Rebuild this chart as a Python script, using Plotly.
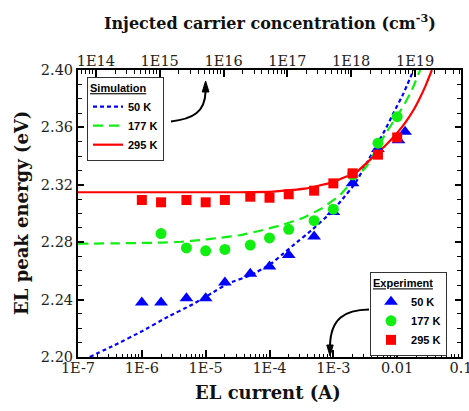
import plotly.graph_objects as go

# ---------------- data ----------------
# Experiment
exp_x_50 = [1e-6, 2e-6, 5e-6, 1e-5, 2e-5, 5e-5, 1e-4, 2e-4, 5e-4, 1e-3, 2e-3, 5e-3, 1.05e-2, 1.33e-2]
exp_y_50 = [2.238, 2.238, 2.241, 2.241, 2.252, 2.258, 2.263, 2.271, 2.284, 2.301, 2.321, 2.345, 2.351, 2.357]

exp_x_177 = [2e-6, 5e-6, 1e-5, 2e-5, 5e-5, 1e-4, 2e-4, 5e-4, 1e-3, 2e-3, 5e-3, 1e-2]
exp_y_177 = [2.286, 2.276, 2.274, 2.275, 2.278, 2.283, 2.289, 2.295, 2.303, 2.327, 2.349, 2.3675]

exp_x_295 = [1e-6, 2e-6, 5e-6, 1e-5, 2e-5, 5e-5, 1e-4, 2e-4, 5e-4, 1e-3, 2e-3, 5e-3, 1e-2]
exp_y_295 = [2.3094, 2.3078, 2.3094, 2.3078, 2.3094, 2.3117, 2.311, 2.3134, 2.3159, 2.321, 2.328, 2.341, 2.353]

# Simulation (log10 of current, energy)
sim_logx_50 = [-6.817, -6.425, -6.008, -5.589, -5.224, -4.911, -4.649, -4.284, -3.970, -3.813,
               -3.625, -3.337, -3.077, -2.867, -2.658, -2.490, -2.318, -2.180, -2.058, -1.901, -1.744]
sim_y_50 = [2.200, 2.2083, 2.2177, 2.2281, 2.2362, 2.2443, 2.2513, 2.2571, 2.2652, 2.271,
            2.278, 2.2885, 2.299, 2.3094, 2.321, 2.334, 2.348, 2.359, 2.370, 2.3837, 2.400]

sim_logx_177 = [-7.0, -6.4, -5.699, -5.386, -5.072, -4.759, -4.445, -4.147, -3.807, -3.494,
                -3.180, -2.893, -2.658, -2.475, -2.318, -2.161, -2.030, -1.901, -1.770, -1.640]
sim_y_177 = [2.2790, 2.2792, 2.2797, 2.2803, 2.2815, 2.2832, 2.2850, 2.2880, 2.2920, 2.2966,
             2.3036, 2.3129, 2.3245, 2.3330, 2.3455, 2.3570, 2.3660, 2.3750, 2.3860, 2.4000]

sim_logx_295 = [-7.0, -6.0, -5.0, -4.461, -3.939, -3.415, -2.998, -2.632, -2.372, -2.180,
                -2.005, -1.870, -1.744, -1.650, -1.561, -1.456]
sim_y_295 = [2.3148, 2.3148, 2.3148, 2.3148, 2.3152, 2.3175, 2.322, 2.329, 2.3396, 2.3475,
             2.3559, 2.3635, 2.3721, 2.3800, 2.3884, 2.400]

# axes
bottom_tickvals = [1e-7, 1e-6, 1e-5, 1e-4, 1e-3, 1e-2, 1e-1]
bottom_ticktext = ["1E-7", "1E-6", "1E-5", "1E-4", "1E-3", "0.01", "0.1"]
top_tickvals = [1e14, 1e15, 1e16, 1e17, 1e18, 1e19]
top_ticktext = ["1E14", "1E15", "1E16", "1E17", "1E18", "1E19"]
conc_offset = 20.72  # log10(concentration) - log10(current)

# ---------------- figure ----------------
BLUE = "#0000ff"
GREEN = "#11ee11"
RED = "#ff0000"
SERIF = "DejaVu Serif"
SANS = "Liberation Sans"
TICKFONT = dict(family=SERIF, size=14.5, color="#222")

fig = go.Figure()

fig.add_trace(go.Scatter(x=[10 ** v for v in sim_logx_50], y=sim_y_50, mode="lines",
                         line=dict(color=BLUE, width=2.2, dash="4px,3px", shape="spline", smoothing=0.3),
                         name="<b>50 K</b>", legend="legend"))
fig.add_trace(go.Scatter(x=[10 ** v for v in sim_logx_177], y=sim_y_177, mode="lines",
                         line=dict(color=GREEN, width=2.2, dash="10px,6px", shape="spline", smoothing=0.3),
                         name="<b>177 K</b>", legend="legend"))
fig.add_trace(go.Scatter(x=[10 ** v for v in sim_logx_295], y=sim_y_295, mode="lines",
                         line=dict(color=RED, width=2.2, shape="spline", smoothing=0.3),
                         name="<b>295 K</b>", legend="legend"))

fig.add_trace(go.Scatter(x=exp_x_50, y=exp_y_50, mode="markers",
                         marker=dict(symbol="triangle-up", size=12, color=BLUE),
                         name="<b>50 K</b>", legend="legend2"))
fig.add_trace(go.Scatter(x=exp_x_177, y=exp_y_177, mode="markers",
                         marker=dict(symbol="circle", size=11, color=GREEN),
                         name="<b>177 K</b>", legend="legend2"))
fig.add_trace(go.Scatter(x=exp_x_295, y=exp_y_295, mode="markers",
                         marker=dict(symbol="square", size=10, color=RED),
                         name="<b>295 K</b>", legend="legend2"))

# invisible trace to activate top axis
fig.add_trace(go.Scatter(x=[1e15], y=[2.3], xaxis="x2", mode="markers",
                         marker=dict(opacity=0), showlegend=False, hoverinfo="skip"))

def minor_vals(lo, hi):
    vals = []
    for e in range(lo, hi + 1):
        for m in range(2, 10):
            vals.append(float(m) * 10.0 ** e)
    return vals

fig.update_layout(
    width=469, height=411,
    margin=dict(l=78, r=8, t=70, b=54, autoexpand=False),
    paper_bgcolor="white", plot_bgcolor="white",
    showlegend=True,
    xaxis=dict(type="log", range=[-7, -1], tickmode="array", tickvals=bottom_tickvals,
               ticktext=bottom_ticktext, ticks="inside", ticklen=7, tickwidth=1.5,
               tickcolor="black", showline=True, linewidth=2, linecolor="black", mirror=True,
               showgrid=False, zeroline=False, ticklabelstandoff=-3,
               automargin=False, ticklabeloverflow="allow",
               tickfont=TICKFONT,
               minor=dict(tickvals=minor_vals(-7, -2), ticks="inside", ticklen=3.5,
                          tickwidth=1.2, tickcolor="black", showgrid=False)),
    xaxis2=dict(type="log", overlaying="x", side="top",
                range=[-7 + conc_offset, -1 + conc_offset], tickmode="array",
                tickvals=top_tickvals, ticktext=top_ticktext, ticks="inside", ticklen=7,
                tickwidth=1.5, tickcolor="black", showline=False, showgrid=False,
                zeroline=False, automargin=False, ticklabeloverflow="allow",
                tickfont=TICKFONT,
                minor=dict(tickvals=minor_vals(13, 19), ticks="inside", ticklen=3.5,
                           tickwidth=1.2, tickcolor="black", showgrid=False)),
    yaxis=dict(range=[2.20, 2.40], tick0=2.20, dtick=0.04, tickformat=".2f",
               ticks="inside", ticklen=6, tickwidth=1.5, tickcolor="black",
               showline=True, linewidth=2, linecolor="black", mirror="ticks",
               showgrid=False, zeroline=False, automargin=False,
               tickfont=TICKFONT,
               minor=dict(dtick=0.01, ticks="inside", ticklen=4, tickwidth=1.2,
                          tickcolor="black", showgrid=False)),
    legend=dict(x=0.0235, y=0.976, xanchor="left", yanchor="top",
                bordercolor="#333", borderwidth=1, bgcolor="white",
                font=dict(family=SANS, size=11, color="black"),
                title=dict(text="<b><u>Simulation</u></b>", font=dict(family=SANS, size=11)),
                itemwidth=30, tracegroupgap=0),
    legend2=dict(x=0.9635, y=0.296, xanchor="right", yanchor="top",
                 bordercolor="#333", borderwidth=1, bgcolor="white",
                 font=dict(family=SANS, size=11, color="black"),
                 title=dict(text="<b><u>Experiment</u></b>", font=dict(family=SANS, size=11)),
                 itemwidth=30, tracegroupgap=0),
)

def P(x, y):
    return (x - 78) / 383.0, (357 - y) / 287.0

# titles as annotations
fig.add_annotation(text="<b>EL current (A)</b>", xref="paper", yref="paper",
                   x=P(268, 0)[0], y=P(0, 392)[1], showarrow=False,
                   font=dict(family=SERIF, size=18, color="#111"), xanchor="center", yanchor="middle")
fig.add_annotation(text="<b>Injected carrier concentration (cm<sup>-3</sup>)</b>", xref="paper", yref="paper",
                   x=P(270, 0)[0], y=P(0, 22)[1], showarrow=False,
                   font=dict(family=SERIF, size=16, color="#111"), xanchor="center", yanchor="middle")
fig.add_annotation(text="<b>EL peak energy (eV)</b>", xref="paper", yref="paper",
                   x=P(21, 0)[0], y=P(0, 213)[1], showarrow=False, textangle=-90,
                   font=dict(family=SERIF, size=18, color="#111"), xanchor="center", yanchor="middle")

# arrows (curves + heads) in paper coordinates
def fmt(x, y):
    a, b = P(x, y)
    return f"{a:.4f},{b:.4f}"

arrow1 = f"M {fmt(171,121.5)} C {fmt(193,119)} {fmt(205,112)} {fmt(205.5,92)}"
head1 = f"M {fmt(205.6,81)} L {fmt(202.2,92)} L {fmt(209,92)} Z"
arrow2 = f"M {fmt(369,309.5)} C {fmt(345,310)} {fmt(330.5,318)} {fmt(330,346)}"
head2 = f"M {fmt(330,356)} L {fmt(326.8,345)} L {fmt(333.2,345)} Z"
for pth, fill in [(arrow1, None), (arrow2, None), (head1, "black"), (head2, "black")]:
    fig.add_shape(type="path", path=pth, xref="paper", yref="paper",
                  line=dict(color="black", width=2 if fill is None else 1),
                  fillcolor=fill if fill else "rgba(0,0,0,0)")

fig.write_html("out.html")
